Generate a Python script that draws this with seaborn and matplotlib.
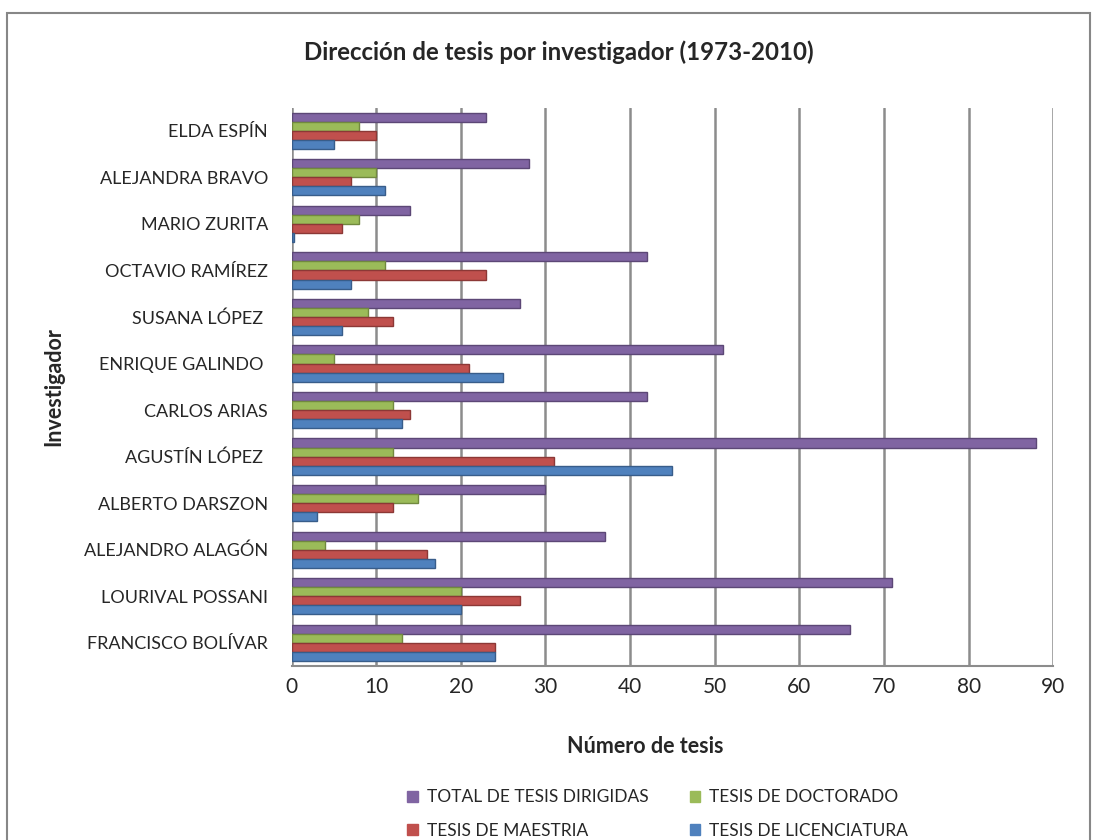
import matplotlib
matplotlib.use("Agg")
import matplotlib.pyplot as plt
import matplotlib.patches as mpatches
import pandas as pd
import seaborn as sns

# Thesis supervision per researcher (1973-2010)
investigadores = [
    "ELDA ESPÍN", "ALEJANDRA BRAVO", "MARIO ZURITA", "OCTAVIO RAMÍREZ",
    "SUSANA LÓPEZ ", "ENRIQUE GALINDO ", "CARLOS ARIAS", "AGUSTÍN LÓPEZ ",
    "ALBERTO DARSZON", "ALEJANDRO ALAGÓN", "LOURIVAL POSSANI", "FRANCISCO BOLÍVAR",
]
total = [23, 28, 14, 42, 27, 51, 42, 88, 30, 37, 71, 66]
doctorado = [8, 10, 8, 11, 9, 5, 12, 12, 15, 4, 20, 13]
maestria = [10, 7, 6, 23, 12, 21, 14, 31, 12, 16, 27, 24]
licenciatura = [5, 11, 0.25, 7, 6, 25, 13, 45, 3, 17, 20, 24]

series_names = ["TOTAL DE TESIS DIRIGIDAS", "TESIS DE DOCTORADO",
                "TESIS DE MAESTRIA", "TESIS DE LICENCIATURA"]
series_colors = ["#8064A2", "#9BBB59", "#C0504D", "#4F81BD"]
edge_colors = ["#5C4776", "#71893F", "#8C3836", "#385D8A"]
x_ticks = [0, 10, 20, 30, 40, 50, 60, 70, 80, 90]

rows = []
for name, vals in zip(series_names, [total, doctorado, maestria, licenciatura]):
    for inv, v in zip(investigadores, vals):
        rows.append({"Investigador": inv, "Serie": name, "Tesis": v})
df = pd.DataFrame(rows)

sns.set_theme(style="white")
plt.rcParams["font.family"] = ["Lato", "DejaVu Sans"]

fig = plt.figure(figsize=(10.96, 8.4), dpi=100)
ax = fig.add_axes([0.266, 0.207, 0.695, 0.665])

sns.barplot(data=df, y="Investigador", x="Tesis", hue="Serie",
            order=investigadores, hue_order=series_names,
            palette=series_colors, orient="h", width=0.78,
            saturation=1, ax=ax, legend=False, zorder=3)

# darker rim on each bar for a bevelled look
for i, container in enumerate(ax.containers):
    for bar in container:
        bar.set_edgecolor(edge_colors[i])
        bar.set_linewidth(1.0)

ax.set_xlim(0, 90)
ax.set_xticks(x_ticks)
ax.set_xticklabels([str(t) for t in x_ticks], fontsize=15)
for t in x_ticks:
    ax.axvline(t, color="#8C8C8C", lw=1.8, zorder=1)

for s in ["top", "right", "left"]:
    ax.spines[s].set_visible(False)
ax.spines["bottom"].set_color("#8C8C8C")
ax.spines["bottom"].set_linewidth(1.5)
ax.tick_params(axis="x", length=6, width=1.5, color="#8C8C8C", pad=2)
ax.tick_params(axis="y", length=0, pad=17, labelsize=13)

ax.set_xlabel("Número de tesis", fontsize=15.5, fontweight="bold")
ax.xaxis.set_label_coords((645 - 292) / 761, -0.125)
ax.set_ylabel("Investigador", fontsize=15.5, fontweight="bold")
ax.yaxis.set_label_coords((65 - 292) / 761, 0.5)
fig.text(0.51, 0.938, "Dirección de tesis por investigador (1973-2010)",
         ha="center", va="center", fontsize=17.3, fontweight="bold")

handles = [mpatches.Patch(color=c, label=n) for n, c in zip(series_names, series_colors)]
order = [0, 2, 1, 3]
fig.legend([handles[i] for i in order], [series_names[i] for i in order],
           ncol=2, loc="center", bbox_to_anchor=(0.6, 0.031), frameon=False,
           fontsize=12.5, handlelength=0.6, handleheight=0.6, handletextpad=0.5,
           columnspacing=2.4, labelspacing=1.0)

# chart-area frame
fig.patches.append(mpatches.Rectangle((0.0065, -0.05), 0.988, 1.035,
                                      transform=fig.transFigure, fill=False,
                                      edgecolor="#878787", lw=1.5))

fig.savefig("out.png", dpi=100)
